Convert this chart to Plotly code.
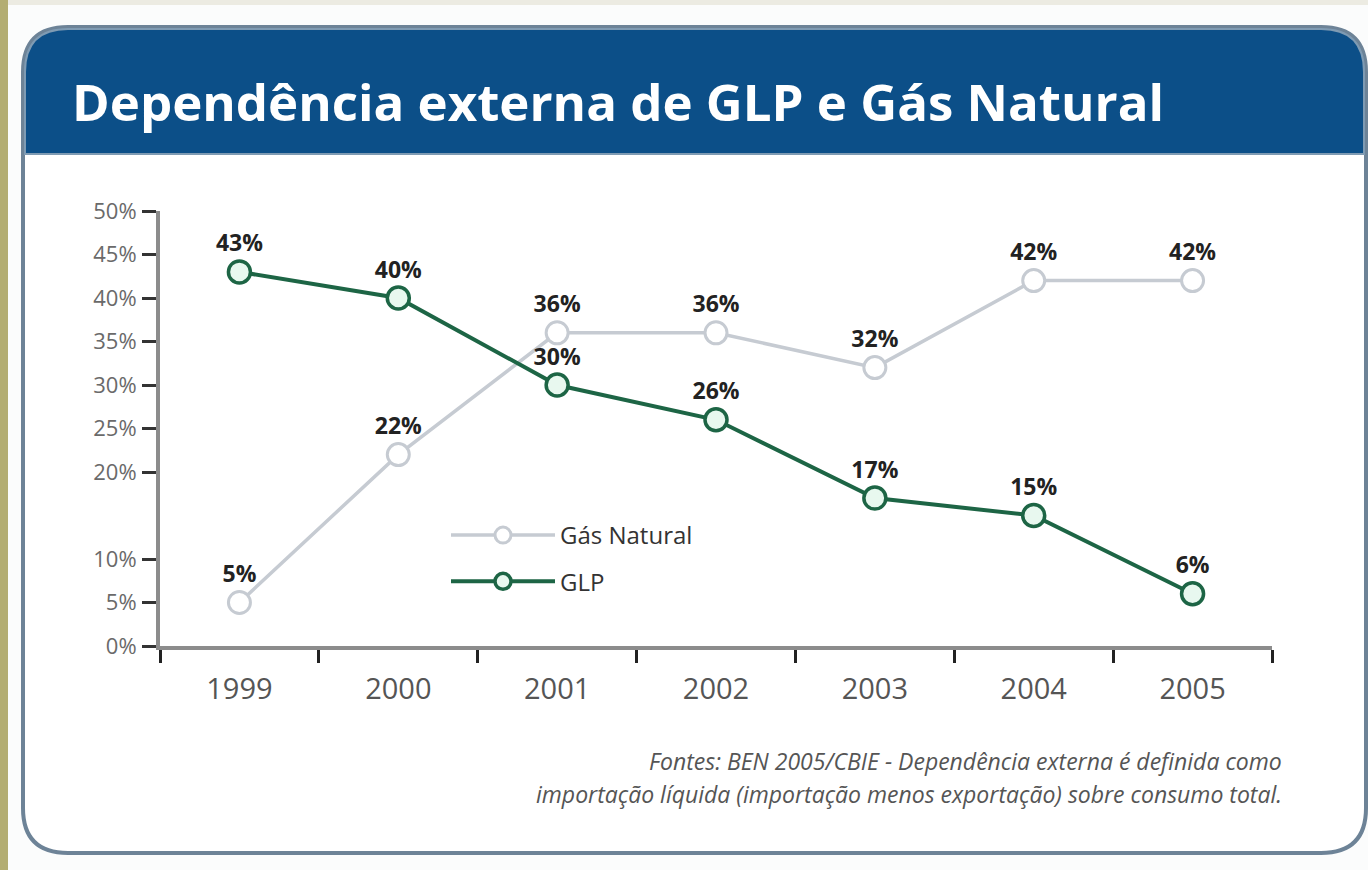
import plotly.graph_objects as go

# ---- data ----
years = ["1999", "2000", "2001", "2002", "2003", "2004", "2005"]
gas_natural = [5, 22, 36, 36, 32, 42, 42]
glp = [43, 40, 30, 26, 17, 15, 6]
ytick_vals = [0, 5, 10, 20, 25, 30, 35, 40, 45, 50]
ytick_text = ["0%", "5%", "10%", "20%", "25%", "30%", "35%", "40%", "45%", "50%"]
title_text = "Dependência externa de GLP e Gás Natural"
note_line1 = "Fontes: BEN 2005/CBIE - Dependência externa é definida como"
note_line2 = "importação líquida (importação menos exportação) sobre consumo total."

W, H = 1368, 870
L, R, T, B = 160, 1272, 211, 646


def X(px):
    return (px - L) / (R - L)


def Y(py):
    return (B - py) / (B - T)


def rrect(x0, y0, x1, y1, r, top_only=False):
    p = f"M {X(x0 + r)},{Y(y0)} L {X(x1 - r)},{Y(y0)} Q {X(x1)},{Y(y0)} {X(x1)},{Y(y0 + r)} "
    if top_only:
        p += f"L {X(x1)},{Y(y1)} L {X(x0)},{Y(y1)} "
    else:
        p += (f"L {X(x1)},{Y(y1 - r)} Q {X(x1)},{Y(y1)} {X(x1 - r)},{Y(y1)} "
              f"L {X(x0 + r)},{Y(y1)} Q {X(x0)},{Y(y1)} {X(x0)},{Y(y1 - r)} ")
    p += f"L {X(x0)},{Y(y0 + r)} Q {X(x0)},{Y(y0)} {X(x0 + r)},{Y(y0)} Z"
    return p


fig = go.Figure()

fig.add_trace(go.Scatter(
    x=years, y=gas_natural, name="Gás Natural", mode="lines+markers+text",
    line=dict(color="#c6cbd2", width=3.5),
    marker=dict(symbol="circle", size=22, color="#ffffff",
                line=dict(color="#c6cbd2", width=3)),
    text=[f"{v}%" for v in gas_natural], textposition="top center",
    textfont=dict(family="Open Sans", size=23, color="#222222", weight="bold"),
    legendgroup="g1", cliponaxis=False,
))
fig.add_trace(go.Scatter(
    x=years, y=glp, name="GLP", mode="lines+markers+text",
    line=dict(color="#1d6545", width=4),
    marker=dict(symbol="circle", size=22, color="#e8f8ef",
                line=dict(color="#1d6545", width=3.5)),
    text=[f"{v}%" for v in glp], textposition="top center",
    textfont=dict(family="Open Sans", size=23, color="#222222", weight="bold"),
    legendgroup="g2", cliponaxis=False,
))

shapes = [
    # top beige strip and left olive strip
    dict(type="rect", xref="paper", yref="paper", x0=X(0), x1=X(W), y0=Y(0), y1=Y(5),
         fillcolor="#ecebe2", line_width=0, layer="below"),
    dict(type="rect", xref="paper", yref="paper", x0=X(0), x1=X(8), y0=Y(0), y1=Y(H),
         fillcolor="#b3ad72", line_width=0, layer="below"),
    # card
    dict(type="path", xref="paper", yref="paper", path=rrect(23, 27, 1366, 853, 45),
         fillcolor="#ffffff", line=dict(color="#6d8397", width=4), layer="below"),
    # header
    dict(type="path", xref="paper", yref="paper", path=rrect(25, 29, 1364, 154, 43, top_only=True),
         fillcolor="#0c4f88", line=dict(color="#7f9bb3", width=2), layer="below"),
]

fig.update_layout(
    width=W, height=H,
    margin=dict(l=L, r=W - R, t=T, b=H - B, pad=0),
    paper_bgcolor="#fbfcfc", plot_bgcolor="rgba(0,0,0,0)",
    shapes=shapes,
    showlegend=True,
    legend=dict(x=X(446), y=Y(513), xanchor="left", yanchor="top",
                bgcolor="rgba(0,0,0,0)", font=dict(family="Open Sans", size=24, color="#333333"),
                itemwidth=104, traceorder="grouped", tracegroupgap=12),
    xaxis=dict(type="category", range=[-0.5, 6.5], tickson="boundaries",
               showgrid=False, zeroline=False,
               showline=True, linecolor="#8c8c8c", linewidth=4,
               ticks="outside", ticklen=13, tickwidth=2.5, tickcolor="#222222",
               tickfont=dict(family="Open Sans", size=29, color="#555555"),
               ticklabelstandoff=14),
    yaxis=dict(range=[0, 50], tickvals=ytick_vals, ticktext=ytick_text,
               showgrid=False, zeroline=False,
               showline=True, linecolor="#8c8c8c", linewidth=4,
               ticks="outside", ticklen=14, tickwidth=2.5, tickcolor="#333333",
               tickfont=dict(family="Open Sans", size=22, color="#6a6a6a"),
               ticklabelstandoff=1),
    xaxis2=dict(overlaying="x", anchor="y", side="bottom", range=[-0.5, 6.5],
                tickvals=[i - 0.5 for i in range(len(years) + 1)], showticklabels=False,
                ticks="inside", ticklen=11, tickwidth=2.5, tickcolor="#222222",
                showline=False, showgrid=False, zeroline=False),
    yaxis2=dict(overlaying="y", anchor="x", side="left", range=[0, 50],
                tickvals=ytick_vals, showticklabels=False,
                ticks="inside", ticklen=11, tickwidth=2.5, tickcolor="#333333",
                showline=False, showgrid=False, zeroline=False),
    annotations=[
        dict(text=f"<b>{title_text}</b>", xref="paper", yref="paper",
             x=X(70), y=Y(101), xanchor="left", yanchor="middle", showarrow=False,
             font=dict(family="Open Sans", size=51, color="#ffffff")),
        dict(text=note_line1, xref="paper", yref="paper",
             x=X(1284), y=Y(761), xanchor="right", yanchor="middle", align="right",
             showarrow=False,
             font=dict(family="Open Sans", size=23, color="#555555", style="italic")),
        dict(text=note_line2, xref="paper", yref="paper",
             x=X(1284), y=Y(794), xanchor="right", yanchor="middle", align="right",
             showarrow=False,
             font=dict(family="Open Sans", size=23, color="#555555", style="italic")),
    ],
)

fig.write_html("out.html", config={"displayModeBar": False},
               post_script="document.body.style.margin='0';")
